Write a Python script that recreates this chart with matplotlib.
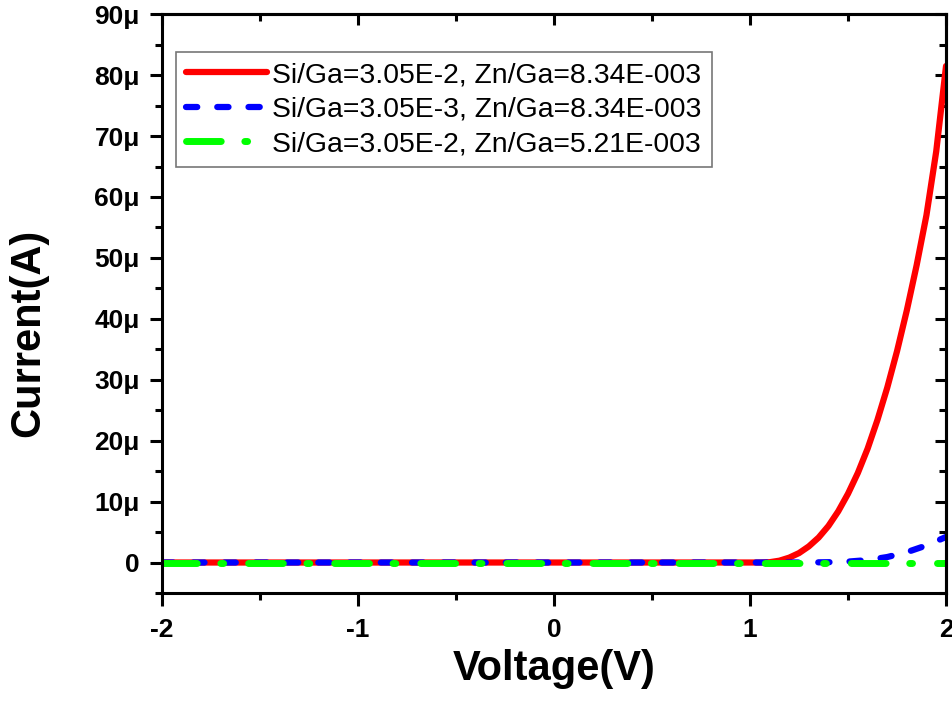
import matplotlib
matplotlib.use("Agg")
import matplotlib.pyplot as plt
from matplotlib.ticker import MultipleLocator, FuncFormatter

plt.rcParams['font.family'] = ['Liberation Sans', 'DejaVu Sans']

# series (voltage in V, current in uA)
v_red = [-2.0, 0.0, 1.0, 1.05, 1.1, 1.15, 1.2, 1.25, 1.3, 1.35, 1.4, 1.45, 1.5,
         1.55, 1.6, 1.65, 1.7, 1.75, 1.8, 1.85, 1.9, 1.95, 2.0]
i_red = [0, 0, 0, 0.0, 0.05, 0.3, 0.8, 1.55, 2.65, 4.1, 6.0, 8.4, 11.3,
         14.7, 18.7, 23.4, 28.7, 34.7, 41.4, 48.8, 57.0, 67.5, 81.5]

v_blue = [-2.0, 0.0, 1.2, 1.3, 1.4, 1.5, 1.6, 1.7, 1.8, 1.9, 2.0]
i_blue = [0, 0, 0, 0.01, 0.05, 0.15, 0.4, 0.9, 1.7, 2.8, 4.2]

v_green = [-2.0, 0.0, 2.0]
i_green = [0, 0, 0]

labels = ["Si/Ga=3.05E-2, Zn/Ga=8.34E-003",
          "Si/Ga=3.05E-3, Zn/Ga=8.34E-003",
          "Si/Ga=3.05E-2, Zn/Ga=5.21E-003"]

fig = plt.figure(figsize=(9.53, 7.11), dpi=100)
ax = fig.add_axes([0.170, 0.166, 0.8227, 0.814])

ax.plot(v_red, [i * 1e-6 for i in i_red], color='#ff0000', lw=4.5,
        solid_capstyle='round', solid_joinstyle='round', label=labels[0])
ax.plot(v_blue, [i * 1e-6 for i in i_blue], color='#0000ff', lw=4.5,
        linestyle=(0, (1.8, 3.2)), dash_capstyle='round', label=labels[1])
ax.plot(v_green, [i * 1e-6 for i in i_green], color='#00ff00', lw=5.0,
        linestyle=(0, (5.0, 3.4, 0.4, 3.6)), dash_capstyle='round', label=labels[2])

ax.set_xlim(-2, 2)
ax.set_ylim(-5e-6, 90e-6)

ax.xaxis.set_major_locator(MultipleLocator(1))
ax.xaxis.set_minor_locator(MultipleLocator(0.5))
ax.yaxis.set_major_locator(MultipleLocator(10e-6))
ax.yaxis.set_minor_locator(MultipleLocator(5e-6))

def fmt_y(val, pos):
    n = int(round(val * 1e6))
    return "0" if n == 0 else f"{n}\u03bc"

ax.yaxis.set_major_formatter(FuncFormatter(fmt_y))
ax.xaxis.set_major_formatter(FuncFormatter(lambda v, p: f"{int(round(v))}"))

for s in ax.spines.values():
    s.set_linewidth(2.2)

ax.tick_params(which='major', direction='out', length=9, width=2.2, labelsize=19)
ax.tick_params(which='minor', direction='out', length=5, width=2.2)
ax.tick_params(axis='x', which='major', pad=9)
ax.tick_params(axis='y', which='major', pad=7)
for lab in ax.get_xticklabels() + ax.get_yticklabels():
    lab.set_fontweight('bold')

# inward ticks on top and right
top = ax.secondary_xaxis('top')
top.xaxis.set_major_locator(MultipleLocator(1))
top.xaxis.set_minor_locator(MultipleLocator(0.5))
top.tick_params(which='major', direction='in', length=8, width=2.2, labeltop=False)
top.tick_params(which='minor', direction='in', length=5, width=2.2)
top.spines['top'].set_linewidth(2.2)

right = ax.secondary_yaxis('right')
right.yaxis.set_major_locator(MultipleLocator(10e-6))
right.yaxis.set_minor_locator(MultipleLocator(5e-6))
right.tick_params(which='major', direction='in', length=8, width=2.2, labelright=False)
right.tick_params(which='minor', direction='in', length=5, width=2.2)
right.spines['right'].set_linewidth(2.2)

ax.set_xlabel("Voltage(V)", fontsize=30, fontweight='bold', labelpad=5)
ax.set_ylabel("Current(A)", fontsize=30, fontweight='bold')
ax.yaxis.label.set_va('center')
ax.yaxis.set_label_coords(-0.171, 0.449)

leg = ax.legend(loc='upper left', bbox_to_anchor=(0.018, 0.934), fontsize=20.4,
                frameon=True, fancybox=False, handlelength=2.85,
                handletextpad=0.2, borderpad=0.35, labelspacing=0.3,
                borderaxespad=0)
leg.get_frame().set_edgecolor('#555555')
leg.get_frame().set_linewidth(1.2)

fig.savefig("out.png", dpi=100)
